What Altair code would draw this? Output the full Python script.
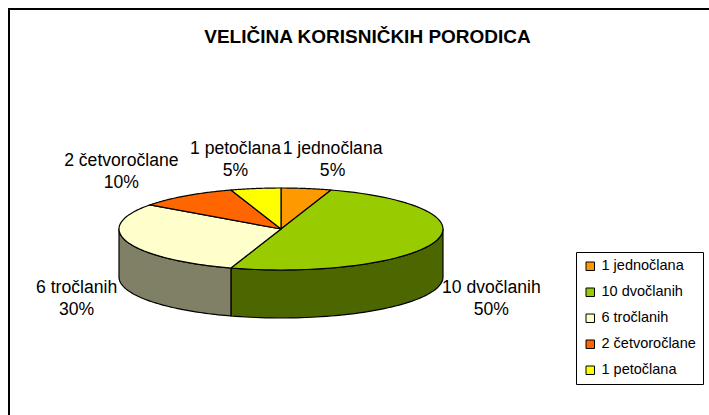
import altair as alt
import pandas as pd

# ---- data ----
title_text = "VELIČINA KORISNIČKIH PORODICA"
labels = ["1 jednočlana", "10 dvočlanih", "6 tročlanih", "2 četvoročlane", "1 petočlana"]
counts = [1, 10, 6, 2, 1]
percents = [5, 50, 30, 10, 5]

# ---- styles ----
top_colors = ["#FF9900", "#99CC00", "#FFFFCC", "#FF6600", "#FFFF00"]
side_colors = ["#804C00", "#4C6600", "#808066", "#803300", "#808000"]
FONT = "Liberation Sans"

# ---- layout (pixels) ----
W, H = 709, 415
CX, CY, RX, RY, DEPTH = 281, 229, 162, 41, 48
N = 60
# label placement around the mid-angle of each slice
LCX, LA, LB, LC = 284, 208, 105, 70
LFS, LLH = 17.6, 22

df = pd.DataFrame({"label": labels, "count": counts, "pct": percents, "idx": list(range(len(labels)))})

xs = alt.Scale(domain=[0, W], nice=False, zero=False)
ys = alt.Scale(domain=[0, H], nice=False, zero=False, reverse=True)

base = (
    alt.Chart(df)
    .transform_window(cum="sum(count)", sort=[alt.SortField("idx")])
    .transform_joinaggregate(total="sum(count)")
    .transform_calculate(
        t0="2*PI*(datum.cum - datum.count)/datum.total",
        t1="2*PI*datum.cum/datum.total",
    )
)

side = (
    base.transform_calculate(s0="max(datum.t0, PI/2)", s1="min(datum.t1, 3*PI/2)")
    .transform_filter("datum.s1 > datum.s0")
    .transform_calculate(steps=f"sequence(0, {2 * N + 2})")
    .transform_flatten(["steps"])
    .transform_calculate(
        k=f"datum.steps <= {N} ? datum.steps : {2 * N + 1} - datum.steps",
        a=f"datum.s0 + (datum.s1 - datum.s0) * datum.k / {N}",
        px=f"{CX} + {RX} * sin(datum.a)",
        py=f"{CY} - {RY} * cos(datum.a) + (datum.steps <= {N} ? 0 : {DEPTH})",
    )
    .mark_line(interpolate="linear-closed", stroke="black", strokeWidth=1.2, strokeJoin="round")
    .encode(
        x=alt.X("px:Q", scale=xs, axis=None),
        y=alt.Y("py:Q", scale=ys, axis=None),
        fill=alt.Fill("label:N", scale=alt.Scale(domain=labels, range=side_colors), legend=None),
        order=alt.Order("steps:Q"),
        detail="label:N",
    )
)

top = (
    base.transform_calculate(steps=f"sequence(0, {N + 2})")
    .transform_flatten(["steps"])
    .transform_calculate(
        a=f"datum.t0 + (datum.t1 - datum.t0) * max(datum.steps - 1, 0) / {N}",
        px=f"datum.steps == 0 ? {CX} : {CX} + {RX} * sin(datum.a)",
        py=f"datum.steps == 0 ? {CY} : {CY} - {RY} * cos(datum.a)",
    )
    .mark_line(interpolate="linear-closed", stroke="black", strokeWidth=1.2, strokeJoin="round")
    .encode(
        x=alt.X("px:Q", scale=xs, axis=None),
        y=alt.Y("py:Q", scale=ys, axis=None),
        fill=alt.Fill(
            "label:N",
            scale=alt.Scale(domain=labels, range=top_colors),
            legend=alt.Legend(
                title=None,
                orient="none",
                legendX=576,
                legendY=252,
                padding=7,
                strokeColor="black",
                fillColor="white",
                symbolType="square",
                symbolSize=72,
                symbolStrokeColor="black",
                symbolStrokeWidth=1,
                symbolOpacity=1,
                labelFont=FONT,
                labelFontSize=14.5,
                labelColor="black",
                rowPadding=11,
                labelOffset=4,
                cornerRadius=0,
            ),
        ),
        order=alt.Order("steps:Q"),
        detail="label:N",
    )
)

texts = (
    base.transform_calculate(
        m="(datum.t0 + datum.t1)/2",
        s="sin(datum.m)",
        c="cos(datum.m)",
        lx=f"{LCX} + datum.s * ({LA} + {LB} * datum.c * datum.c)",
        ly=f"{CY} - {LC}*datum.c + (datum.c < 0 ? {DEPTH} : 0) - {LLH / 2}",
        txt="datum.label + '\\n' + datum.pct + '%'",
    )
    .mark_text(font=FONT, fontSize=LFS, lineBreak="\n", lineHeight=LLH,
               align="center", baseline="middle", color="black")
    .encode(x=alt.X("lx:Q", scale=xs, axis=None), y=alt.Y("ly:Q", scale=ys, axis=None), text="txt:N")
)

one = pd.DataFrame({"t": [title_text]})
title = (
    alt.Chart(one)
    .mark_text(font=FONT, fontSize=19, fontWeight="bold", align="center", baseline="alphabetic",
               color="black")
    .encode(x=alt.value(367.5), y=alt.value(43), text="t:N")
)

frame_left = alt.Chart(one).mark_rule(color="black", strokeWidth=2).encode(
    x=alt.value(9), y=alt.value(8), y2=alt.value(430)
)
frame_top = alt.Chart(one).mark_rule(color="black", strokeWidth=2).encode(
    x=alt.value(8), x2=alt.value(730), y=alt.value(9)
)

chart = (
    alt.layer(frame_left, frame_top, side, top, texts, title)
    .resolve_scale(fill="independent")
    .properties(width=W, height=H, padding=0, autosize=alt.AutoSizeParams(type="none"), background="white")
    .configure_view(stroke=None)
)

chart.save("out.html", embed_options={"renderer": "svg", "actions": False})
